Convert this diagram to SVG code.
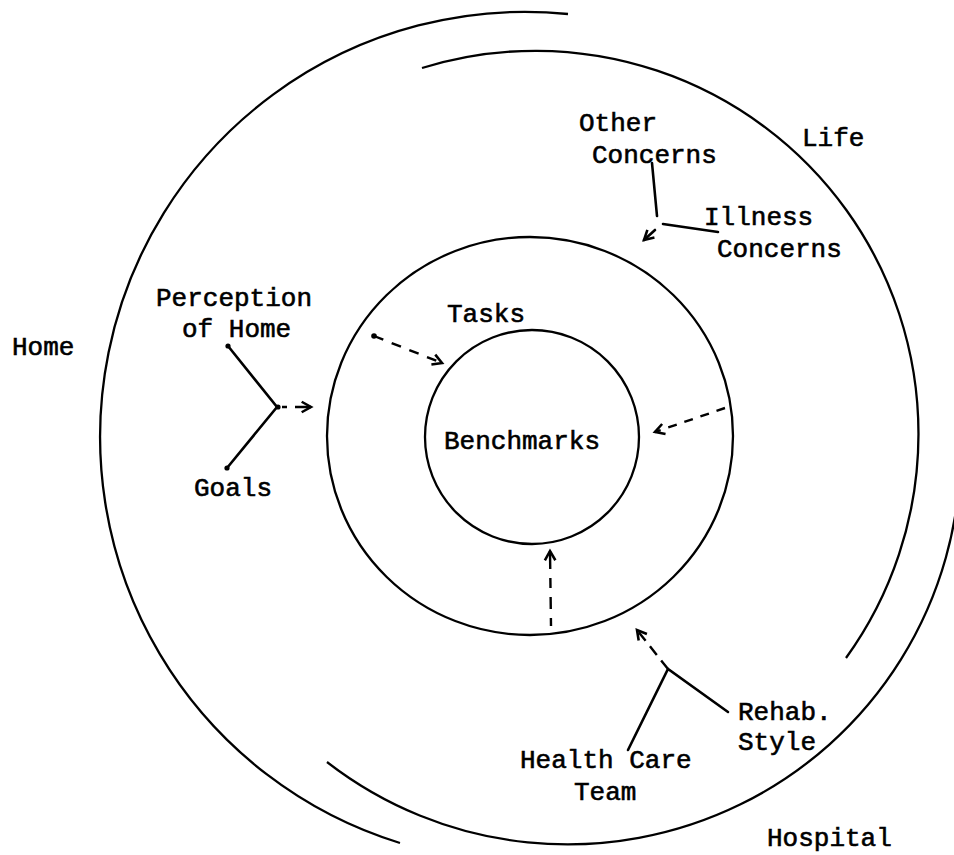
<svg xmlns="http://www.w3.org/2000/svg" width="954" height="855" viewBox="0 0 954 855">
<defs>
<style>
.ring{fill:none;stroke:#000;stroke-width:2.3}
.lbl{font-family:"Liberation Mono","Courier New",monospace;font-size:26px;fill:#000;stroke:#000;stroke-width:0.6}
.ln{fill:none;stroke:#000;stroke-width:2.6;stroke-linecap:round}
.dash{fill:none;stroke:#000;stroke-width:2.4;stroke-linecap:butt}
</style>
<marker id="arr" markerUnits="userSpaceOnUse" markerWidth="14" markerHeight="14" refX="9" refY="5" orient="auto" viewBox="0 0 12 10">
<path d="M1,0.5 L9,5 L1,9.5" fill="none" stroke="#000" stroke-width="2.2"/>
</marker>
</defs>
<rect width="954" height="855" fill="#fff"/>

<g id="home">
<path class="ring" d="M568,14 A425,425 0 0 0 400,843"/>
<text class="lbl" x="12" y="355">Home</text>
</g>
<g id="life">
<path class="ring" d="M422,68 A383,383 0 0 1 846,658"/>
<text class="lbl" x="802" y="146">Life</text>
</g>
<g id="hospital">
<path class="ring" d="M327,762 A392.7,392.7 0 0 0 960.4,451.5"/>
<text class="lbl" x="767" y="846">Hospital</text>
</g>
<g id="tasks">
<ellipse class="ring" cx="530" cy="436" rx="203" ry="199"/>
<text class="lbl" x="447" y="322">Tasks</text>
</g>
<g id="benchmarks">
<circle class="ring" cx="532" cy="437" r="107" stroke-width="3"/>
<text class="lbl" x="444" y="449">Benchmarks</text>
</g>
<g id="other-concerns">
<text class="lbl" x="579" y="131">Other</text>
<text class="lbl" x="592" y="163">Concerns</text>
</g>
<g id="illness-concerns">
<text class="lbl" x="704" y="225">Illness</text>
<text class="lbl" x="717" y="257">Concerns</text>
</g>
<g id="perception-of-home">
<text class="lbl" x="156" y="306">Perception</text>
<text class="lbl" x="182" y="337">of Home</text>
</g>
<g id="goals">
<text class="lbl" x="194" y="496">Goals</text>
</g>
<g id="health-care-team">
<text class="lbl" x="520" y="768">Health Care</text>
<text class="lbl" x="574" y="800">Team</text>
</g>
<g id="rehab-style">
<text class="lbl" x="738" y="720">Rehab.</text>
<text class="lbl" x="738" y="750">Style</text>
</g>

<g id="connectors">
<path class="ln" d="M652,163 L657,216"/>
<path class="ln" d="M663,224 L718,232"/>
<path class="ln" d="M655,230 L644,240" stroke-width="2" marker-end="url(#arr)"/>
<path class="ln" d="M228,346 L277,407 L227,468"/>
<circle cx="228" cy="346" r="2.6"/>
<circle cx="227" cy="468" r="2.6"/>
<circle cx="278" cy="407" r="2.6"/>
<path class="dash" d="M282,407 L311,407" stroke-dasharray="5 8 20" marker-end="url(#arr)"/>
<circle cx="374" cy="336" r="2.8"/>
<path class="dash" d="M374,336 L442,363" stroke-dasharray="10 9" marker-end="url(#arr)"/>
<path class="dash" d="M725,408 L655,432" stroke-dasharray="9 8" marker-end="url(#arr)"/>
<path class="dash" d="M551,626 L550,551" stroke-dasharray="8 9 12 9 10 9 18" marker-end="url(#arr)"/>
<path class="ln" d="M628,750 L668,669 L728,712"/>
<path class="dash" d="M668,669 L637,630" stroke-dasharray="11 7" marker-end="url(#arr)"/>
</g>
</svg>
